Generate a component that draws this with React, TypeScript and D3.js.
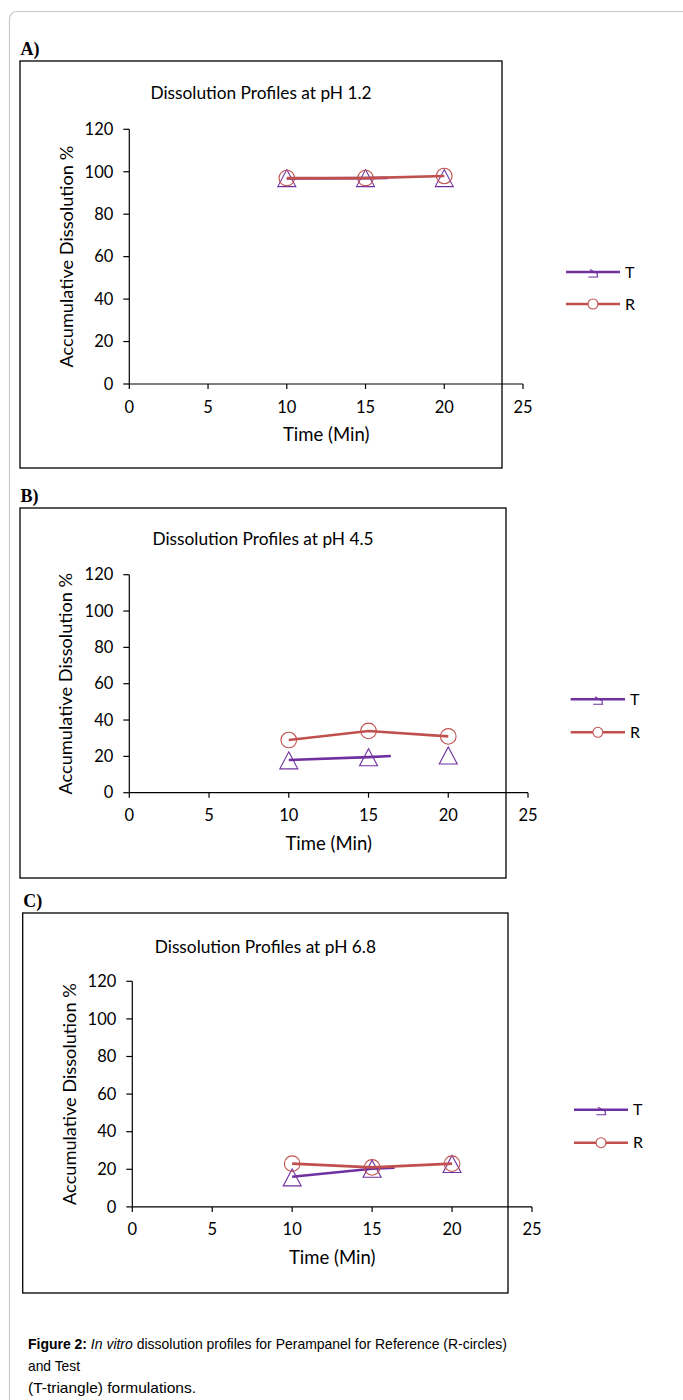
import React from "react";
import * as d3 from "d3";

// ---------- data ----------
const times = [10, 15, 20];
const xTicks = [0, 5, 10, 15, 20, 25];
const yTicks = [0, 20, 40, 60, 80, 100, 120];
const panelLabels = ["A)", "B)", "C)"];
const titles = [
  "Dissolution Profiles at pH 1.2",
  "Dissolution Profiles at pH 4.5",
  "Dissolution Profiles at pH 6.8",
];
const seriesNames = ["T", "R"];

// Test (triangles) marker values
const testA = [97, 97, 97];
const testB = [17.8, 19.5, 20.5];
const testC = [15.7, 20.3, 22.8];
// Reference (circles) values
const refA = [97, 97, 98];
const refB = [29, 34, 31];
const refC = [23, 21, 23];
// Test line as drawn in the figure (ends part-way)
const testLineTimes = [10, 15, 16.4];
const testLineA = [96.8, 97, 97.1];
const testLineB = [18, 19.6, 20.2];
const testLineC = [16, 20.3, 20.8];

const captionBold = "Figure 2:";
const captionItalic = "In vitro";
const captionRest1 = " dissolution profiles for Perampanel for Reference (R-circles)";
const captionLine2 = "and Test";
const captionLine3 = "(T-triangle) formulations.";

// ---------- layout ----------
const PURPLE = "#7030A0";
const RED = "#C0504D";
const FONT = "Lato, 'Open Sans', sans-serif";

const panels = [
  {
    box: { x: 20, y: 61, w: 482, h: 407 },
    plot: { x0: 129.3, x1: 523, y0: 384, y1: 129.3 },
    legend: { x1: 566, x2: 620, yT: 272, yR: 304 },
    titleY: 99,
    yLabelX: 67,
    test: testA, ref: refA, testLine: testLineA,
  },
  {
    box: { x: 20, y: 508, w: 486, h: 370 },
    plot: { x0: 129.3, x1: 528, y0: 792.7, y1: 574.7 },
    legend: { x1: 570.7, x2: 625, yT: 699.3, yR: 732.3 },
    titleY: 545,
    yLabelX: 66,
    test: testB, ref: refB, testLine: testLineB,
  },
  {
    box: { x: 22.7, y: 913, w: 485.3, h: 380 },
    plot: { x0: 132.3, x1: 532, y0: 1206.9, y1: 981.3 },
    legend: { x1: 574, x2: 628, yT: 1109.7, yR: 1142.7 },
    titleY: 953,
    yLabelX: 70,
    test: testC, ref: refC, testLine: testLineC,
  },
];

function triPath(cx: number, cy: number, w = 18, h = 17) {
  return `M${cx},${cy - h / 2}L${cx + w / 2},${cy + h / 2}L${cx - w / 2},${cy + h / 2}Z`;
}

function Panel({ p, i }: { p: (typeof panels)[number]; i: number }) {
  const x = d3.scaleLinear().domain([0, 25]).range([p.plot.x0, p.plot.x1]);
  const y = d3.scaleLinear().domain([0, 120]).range([p.plot.y0, p.plot.y1]);
  const line = d3
    .line<[number, number]>()
    .x((d) => x(d[0]))
    .y((d) => y(d[1]));
  const refPts = times.map((t, k) => [t, p.ref[k]] as [number, number]);
  const testLinePts = testLineTimes.map((t, k) => [t, p.testLine[k]] as [number, number]);
  const cx = (p.box.x + p.box.x + p.box.w) / 2;
  const plotMidY = (p.plot.y0 + p.plot.y1) / 2;
  const lg = p.legend;
  const lmx = (lg.x1 + lg.x2) / 2;
  return (
    <g>
      <text x={p.box.x + 0.5} y={p.box.y - 6} fontFamily="'Liberation Serif', 'Times New Roman', serif" fontWeight="bold" fontSize={18} fill="#000">
        {panelLabels[i]}
      </text>
      <rect x={p.box.x} y={p.box.y} width={p.box.w} height={p.box.h} fill="#fff" stroke="#000" strokeWidth={1.3} />
      <text x={cx} y={p.titleY} textAnchor="middle" fontFamily={FONT} fontSize={17.3} fill="#000">
        {titles[i]}
      </text>
      {/* y axis */}
      <line x1={x(0)} x2={x(0)} y1={y(0)} y2={y(120)} stroke="#000" strokeWidth={1.2} />
      {yTicks.map((t) => (
        <g key={"y" + t}>
          <line x1={x(0) - 6} x2={x(0)} y1={y(t)} y2={y(t)} stroke="#000" strokeWidth={1.2} />
          <text x={x(0) - 16} y={y(t)} dy="0.35em" textAnchor="end" fontFamily={FONT} fontSize={16.5} fill="#000">
            {t}
          </text>
        </g>
      ))}
      {/* x axis */}
      <line x1={x(0)} x2={x(25)} y1={y(0)} y2={y(0)} stroke="#000" strokeWidth={1.2} />
      {xTicks.map((t) => (
        <g key={"x" + t}>
          <line x1={x(t)} x2={x(t)} y1={y(0)} y2={y(0) + 5} stroke="#000" strokeWidth={1.2} />
          <text x={x(t)} y={y(0) + 28.5} textAnchor="middle" fontFamily={FONT} fontSize={16.5} fill="#000">
            {t}
          </text>
        </g>
      ))}
      <text x={(x(0) + x(25)) / 2} y={y(0) + 57} textAnchor="middle" fontFamily={FONT} fontSize={18.5} fill="#000">
        Time (Min)
      </text>
      <text
        transform={`translate(${p.yLabelX},${plotMidY}) rotate(-90)`}
        dy="0.35em"
        textAnchor="middle"
        fontFamily={FONT}
        fontSize={18.2}
        fill="#000"
      >
        Accumulative Dissolution %
      </text>
      {/* Test series */}
      <path d={line(testLinePts) || ""} fill="none" stroke={PURPLE} strokeWidth={2.6} />
      {times.map((t, k) => (
        <path key={"t" + k} d={triPath(x(t), y(p.test[k]))} fill="none" stroke={PURPLE} strokeWidth={1.1} />
      ))}
      {/* Reference series */}
      <path d={line(refPts) || ""} fill="none" stroke={RED} strokeWidth={2.6} />
      {times.map((t, k) => (
        <circle key={"r" + k} cx={x(t)} cy={y(p.ref[k])} r={7.8} fill="none" stroke={RED} strokeWidth={1.1} />
      ))}
      {/* legend */}
      <line x1={lg.x1} x2={lg.x2} y1={lg.yT} y2={lg.yT} stroke={PURPLE} strokeWidth={2.6} />
      <path
        d={`M${lmx - 3},${lg.yT - 2.5}L${lmx + 4.3},${lg.yT + 1.5}L${lmx + 4.3},${lg.yT + 5}M${lmx - 4.7},${lg.yT + 5}L${lmx + 5.3},${lg.yT + 5}`}
        fill="none"
        stroke={PURPLE}
        strokeWidth={1.1}
      />
      <text x={lg.x2 + 5} y={lg.yT} dy="0.35em" fontFamily={FONT} fontSize={16} fill="#000">
        {seriesNames[0]}
      </text>
      <line x1={lg.x1} x2={lg.x2} y1={lg.yR} y2={lg.yR} stroke={RED} strokeWidth={2.6} />
      <circle cx={lmx} cy={lg.yR} r={5} fill="#fff" stroke={RED} strokeWidth={1.1} />
      <text x={lg.x2 + 5} y={lg.yR} dy="0.35em" fontFamily={FONT} fontSize={16} fill="#000">
        {seriesNames[1]}
      </text>
    </g>
  );
}

export default function App() {
  const capFont = "'Liberation Sans Narrow', 'Arial Narrow', 'Liberation Sans', Arial, sans-serif";
  return (
    <svg width={683} height={1400} style={{ position: "absolute", left: 0, top: 0 }}>
      <rect x={0} y={0} width={683} height={1400} fill="#fff" />
      <rect x={9.5} y={11.5} width={720} height={1450} rx={7} fill="#fff" stroke="#c8c8c8" strokeWidth={1.2} />
      {panels.map((p, i) => (
        <Panel key={i} p={p} i={i} />
      ))}
      <text x={28} y={1349} fontFamily={capFont} fontSize={15} fill="#000" textLength={479} lengthAdjust="spacingAndGlyphs">
        <tspan fontWeight="bold">{captionBold}</tspan>
        <tspan> </tspan>
        <tspan fontStyle="italic">{captionItalic}</tspan>
        <tspan>{captionRest1}</tspan>
      </text>
      <text x={28} y={1371} fontFamily={capFont} fontSize={15} fill="#000" textLength={52} lengthAdjust="spacingAndGlyphs">
        {captionLine2}
      </text>
      <text x={28} y={1393} fontFamily={capFont} fontSize={15} fill="#000" textLength={168} lengthAdjust="spacingAndGlyphs">
        {captionLine3}
      </text>
    </svg>
  );
}
